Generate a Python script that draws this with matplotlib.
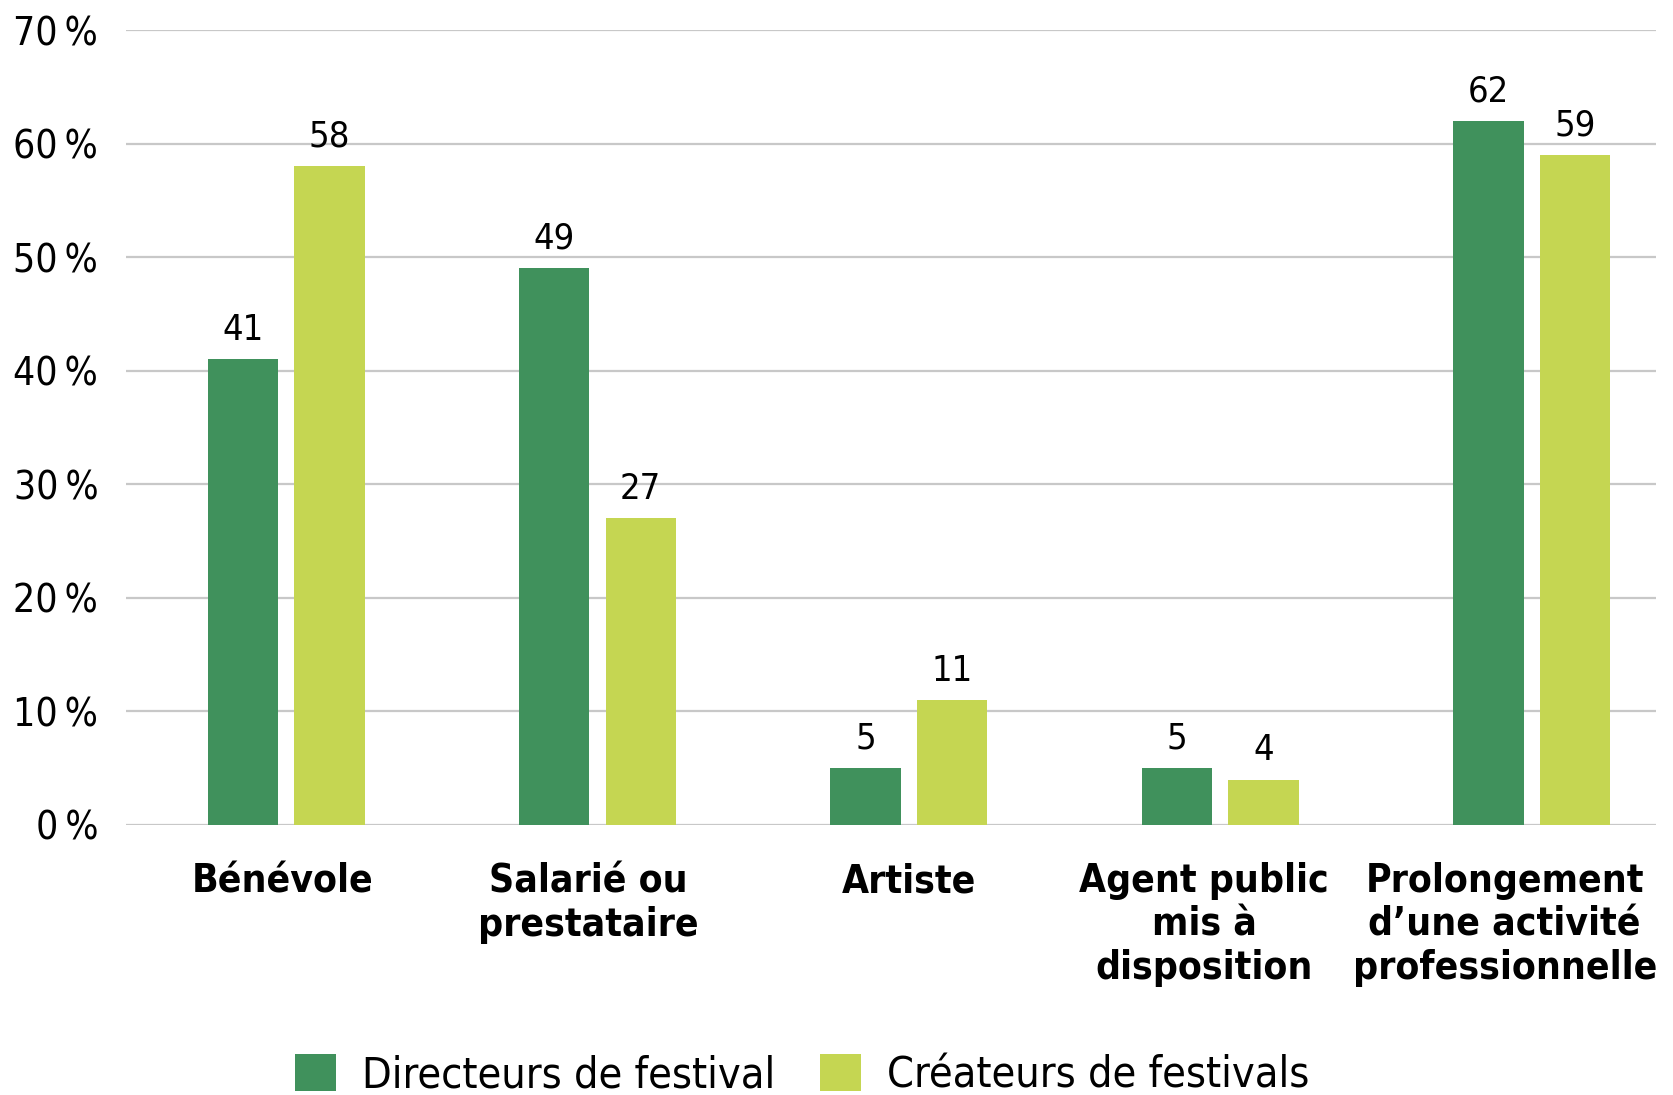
import numpy as np
import matplotlib
matplotlib.use("Agg")
import matplotlib.pyplot as plt
from matplotlib.transforms import ScaledTranslation

plt.rcParams['font.family'] = ['DejaVu Sans']
plt.rcParams['font.stretch'] = 'condensed'

categories = ['Bénévole', 'Salarié ou\nprestataire', 'Artiste',
              'Agent public\nmis à\ndisposition',
              'Prolongement\nd\u2019une activité\nprofessionnelle']
directeurs = [41, 49, 5, 5, 62]
createurs = [58, 27, 11, 4, 59]
series_names = ['Directeurs de festival', 'Créateurs de festivals']
yticks = [0, 10, 20, 30, 40, 50, 60, 70]

dark_green = '#40915c'
light_green = '#c5d652'

fig = plt.figure(figsize=(16.73, 10.95), dpi=100)
ax = fig.add_axes([0.0753, 0.2466, 0.9147, 0.726])

x = np.arange(len(categories))
w = 0.226
off = 0.139
b1 = ax.bar(x - off, directeurs, w, color=dark_green, label=series_names[0], zorder=3)
b2 = ax.bar(x + off, createurs, w, color=light_green, label=series_names[1], zorder=3)

for bars, vals in [(b1, directeurs), (b2, createurs)]:
    for rect, v in zip(bars, vals):
        ax.annotate(str(v), (rect.get_x() + rect.get_width() / 2, v),
                    xytext=(0, 9), textcoords='offset points',
                    ha='center', va='bottom', fontsize=26)

ax.set_ylim(0, 70)
ax.set_xlim(-0.514, 4.40)
ax.set_yticks(yticks)
ax.set_yticklabels([f'{t}\u202f%' for t in yticks], fontsize=28)
ax.yaxis.grid(True, color='#c8c8c8', linewidth=1.6, zorder=0)
ax.tick_params(axis='both', length=0)
ax.tick_params(axis='y', pad=20)
for s in ax.spines.values():
    s.set_visible(False)

ax.set_xticks(x)
ax.set_xticklabels(categories, fontsize=28, fontweight='bold', linespacing=1.18)
ax.tick_params(axis='x', pad=27)
# small horizontal nudges of the category labels (inches)
nudges = [-0.03, -0.09, 0.0, -0.16, -0.27]
for lab, dx in zip(ax.get_xticklabels(), nudges):
    lab.set_transform(lab.get_transform() + ScaledTranslation(dx, 0, fig.dpi_scale_trans))

ax.legend(loc='center', bbox_to_anchor=(0.442, -0.315), ncol=2, frameon=False,
          fontsize=31, handlelength=0.95, handleheight=0.95, columnspacing=1.05,
          handletextpad=0.6)

fig.savefig('out.png', dpi=100, facecolor='white')
